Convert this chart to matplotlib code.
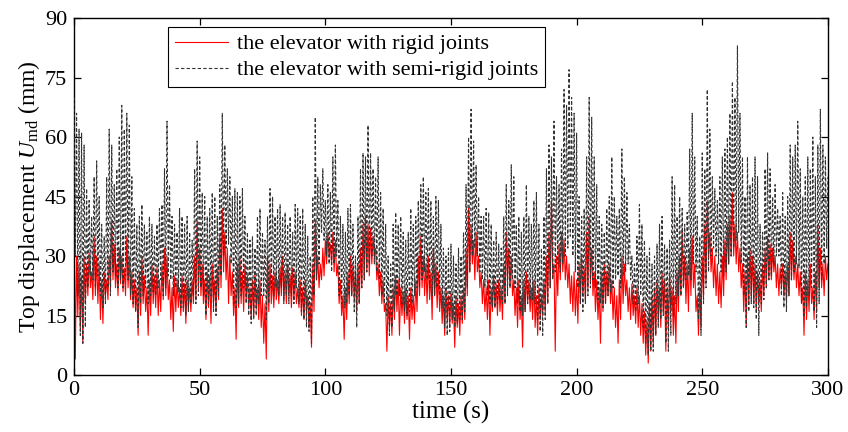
import numpy as np
import matplotlib
matplotlib.use("Agg")
import matplotlib.pyplot as plt

plt.rcParams['font.family'] = ['Liberation Serif', 'DejaVu Serif']
plt.rcParams['mathtext.fontset'] = 'custom'
plt.rcParams['mathtext.rm'] = 'Liberation Serif'
plt.rcParams['mathtext.it'] = 'Liberation Serif:italic'

# time grid (s), sampled every 0.5 s
time = np.linspace(0, 300, 601)

# top displacement, semi-rigid joints (mm)
semi_rigid = [
    70,30, 66,20, 62,10, 61,8, 58,12, 47,22, 44,25, 40,24, 50,22, 54,25,
    45,20, 38,17, 35,18, 50,22, 62,20, 58,26, 48,25, 52,22, 60,24, 68,22,
    62,25, 66,24, 63,20, 50,18, 42,16, 38,12, 40,18, 43,20, 38,22, 36,18,
    40,20, 38,21, 35,20, 38,22, 42,24, 43,20, 52,22, 64,25, 48,24, 40,20,
    38,22, 36,21, 42,17, 40,17, 38,15, 40,16, 36,18, 34,20, 52,18, 59,20,
    55,22, 46,20, 45,15, 40,18, 42,20, 46,16, 45,15, 40,20, 48,25, 66,30,
    58,32, 52,33, 50,28, 45,18, 47,17, 46,18, 45,20, 47,22, 40,18, 36,15,
    34,13, 35,14, 32,15, 40,18, 42,20, 36,20, 34,14, 40,18, 47,22, 45,20,
    40,22, 42,20, 43,22, 40,18, 41,20, 38,18, 40,20, 36,18, 43,22, 42,18,
    40,16, 42,14, 38,12, 35,11, 30,8, 45,20, 65,24, 50,28, 48,36, 52,34,
    44,30, 48,28, 46,26, 55,28, 58,30, 44,20, 40,18, 38,17, 36,18, 42,20,
    43,20, 38,16, 30,12, 40,18, 52,22, 56,24, 55,26, 63,28, 56,30, 52,28,
    50,26, 55,24, 46,20, 42,18, 38,15, 30,10, 28,12, 38,16, 41,20, 38,20,
    40,18, 36,16, 34,15, 36,16, 42,18, 38,20, 40,22, 44,22, 48,24, 50,26,
    46,24, 47,22, 44,20, 40,20, 45,22, 44,20, 38,17, 32,12, 30,10, 32,11,
    33,14, 30,12, 28,13, 32,14, 30,14, 36,16, 48,22, 60,26, 67,30, 59,32,
    53,30, 45,26, 40,24, 40,22, 42,20, 41,18, 38,17, 34,17, 36,18, 33,19,
    32,18, 40,18, 48,20, 44,22, 53,24, 50,22, 38,18, 40,16, 36,15, 40,16,
    48,18, 40,19, 38,19, 44,18, 46,14, 38,11, 32,10, 40,14, 52,18, 58,22,
    55,24, 64,26, 50,28, 48,26, 57,28, 72,30, 68,32, 77,35, 70,30, 66,26,
    61,22, 45,18, 40,16, 42,18, 55,20, 70,22, 65,24, 55,22, 48,19, 40,18,
    38,17, 36,18, 42,20, 45,21, 55,22, 45,24, 40,25, 42,22, 57,25, 50,26,
    46,28, 38,24, 30,18, 28,16, 35,18, 43,20, 38,12, 34,8, 30,5, 32,6,
    28,6, 30,10, 33,12, 38,14, 40,15, 33,8, 32,6, 34,10, 50,15, 48,18,
    40,20, 45,20, 42,22, 38,24, 41,25, 57,24, 66,28, 55,26, 40,14, 35,10,
    56,18, 52,22, 72,26, 62,30, 50,32, 47,30, 44,28, 50,26, 55,25, 57,26,
    60,28, 66,30, 74,32, 70,34, 83,36, 66,28, 55,20, 45,12, 55,16, 48,18,
    50,17, 55,14, 50,10, 38,18, 36,19, 52,22, 56,24, 52,25, 45,28, 48,30,
    42,30, 40,20, 46,17, 40,16, 45,20, 58,24, 55,26, 58,28, 64,27, 52,18,
    45,15, 50,17, 55,20, 52,22, 60,16, 50,12, 58,18, 67,24, 58,28, 55,32,
    50,
]

# top displacement, rigid joints (mm)
rigid = [
    40,4, 30,15, 28,12, 25,8, 30,18, 28,20, 31,22, 26,19, 35,20, 30,18,
    28,14, 24,13, 26,20, 24,19, 30,22, 39,24, 33,22, 28,20, 32,23, 30,21,
    27,20, 35,22, 30,19, 26,17, 24,16, 22,10, 26,15, 30,18, 25,16, 22,10,
    24,15, 28,18, 25,17, 27,15, 24,16, 28,19, 32,20, 30,19, 24,14, 22,11,
    25,16, 24,17, 22,15, 25,16, 23,13, 24,17, 22,16, 24,18, 30,19, 39,22,
    32,20, 28,18, 24,14, 26,17, 25,13, 28,18, 24,16, 27,19, 35,22, 42,26,
    36,24, 32,18, 30,20, 26,15, 22,9, 28,17, 30,18, 26,16, 28,19, 25,17,
    22,14, 24,15, 26,17, 22,14, 24,12, 20,8, 18,4, 30,16, 28,18, 25,17,
    26,19, 24,18, 27,20, 30,19, 26,18, 28,20, 25,17, 27,19, 26,18, 22,17,
    24,15, 22,14, 24,16, 20,12, 18,7, 28,16, 39,24, 30,22, 28,24, 32,25,
    34,28, 36,30, 33,28, 36,26, 34,25, 28,18, 24,15, 20,9, 22,14, 26,18,
    30,20, 28,19, 26,16, 28,18, 32,22, 38,24, 40,26, 38,25, 37,28, 35,30,
    32,24, 28,20, 26,18, 24,16, 18,6, 20,12, 18,10, 22,14, 25,16, 24,10,
    22,15, 21,13, 22,14, 20,9, 22,14, 20,13, 24,16, 30,20, 35,22, 30,20,
    28,18, 30,19, 26,14, 32,20, 28,17, 26,16, 22,13, 20,10, 22,14, 20,12,
    21,13, 18,7, 20,12, 18,10, 20,13, 22,14, 32,20, 42,26, 38,28, 34,24,
    36,26, 30,22, 26,18, 24,16, 22,14, 24,10, 22,16, 25,17, 23,15, 24,16,
    22,14, 28,18, 36,24, 32,22, 30,20, 24,15, 22,12, 24,14, 20,7, 24,16,
    26,18, 24,16, 22,14, 24,12, 20,10, 22,14, 20,15, 24,16, 30,18, 36,22,
    44,25, 28,6, 30,20, 33,24, 36,26, 34,24, 30,22, 28,18, 25,16, 26,15,
    24,13, 28,18, 30,20, 27,19, 36,22, 40,24, 32,20, 26,16, 24,14, 22,8,
    26,16, 28,18, 26,20, 28,18, 24,14, 22,12, 20,8, 24,14, 30,18, 28,20,
    24,16, 22,14, 23,15, 20,13, 22,12, 20,10, 18,8, 16,5, 14,3, 18,6,
    20,8, 22,10, 24,14, 22,12, 26,16, 24,6, 22,12, 25,16, 22,10, 20,8,
    26,16, 30,20, 37,22, 30,18, 28,16, 32,20, 35,22, 28,16, 20,10, 22,12,
    30,20, 38,24, 44,30, 36,26, 32,22, 30,20, 28,18, 26,17, 30,20, 34,24,
    38,28, 40,30, 46,30, 38,28, 36,26, 32,22, 28,16, 26,12, 30,18, 32,20,
    30,18, 28,16, 26,18, 24,16, 28,20, 32,22, 35,24, 33,24, 32,26, 30,22,
    28,20, 27,22, 28,20, 26,19, 28,20, 36,24, 34,24, 30,22, 28,20, 26,18,
    22,10, 26,14, 24,16, 28,18, 22,14, 26,16, 38,22, 32,22, 28,20, 30,24,
    28,
]

x_ticks = [0, 50, 100, 150, 200, 250, 300]
y_ticks = [0, 15, 30, 45, 60, 75, 90]

fig = plt.figure(figsize=(8.48, 4.32), dpi=100)
ax = fig.add_axes([0.0873, 0.132, 0.889, 0.826])

ax.plot(time, rigid, color='#ff0000', lw=0.8, label='the elevator with rigid joints', zorder=2)
ax.plot(time, semi_rigid, color='#333333', lw=0.8, dashes=(3, 2),
        label='the elevator with semi-rigid joints', zorder=3)

ax.set_xlim(0, 300)
ax.set_ylim(0, 90)
ax.set_xticks(x_ticks)
ax.set_yticks(y_ticks)
ax.tick_params(direction='in', top=True, right=True, length=5, width=0.9,
               labelsize=16)
ax.tick_params(axis='x', pad=4)
ax.tick_params(axis='y', pad=5)
for s in ax.spines.values():
    s.set_linewidth(1.0)

ax.set_xlabel('time (s)', fontsize=18, labelpad=1)
ax.set_ylabel(r'Top displacement $U_{\mathrm{md}}$ (mm)', fontsize=17, labelpad=2)

leg = ax.legend(loc='upper left', bbox_to_anchor=(0.1247, 0.975), fontsize=16,
                frameon=True, fancybox=False, edgecolor='black', framealpha=1,
                handlelength=2.4, borderaxespad=0, borderpad=0.3,
                labelspacing=0.25, handletextpad=0.4)
leg.get_frame().set_linewidth(0.8)

fig.savefig('out.png', dpi=100)
